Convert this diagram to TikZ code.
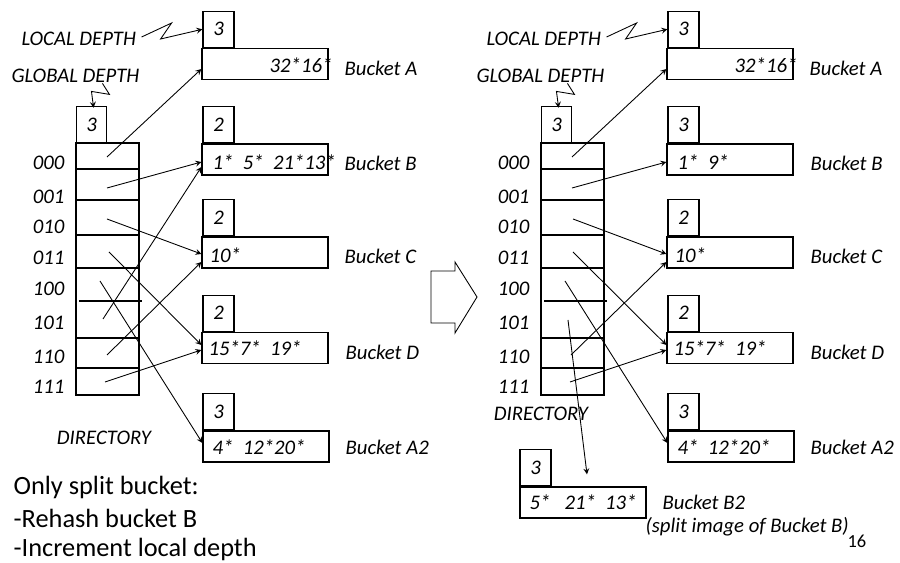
\documentclass[tikz,border=0pt]{standalone}
\usepackage{fontspec}
\setmainfont{Carlito}
\usetikzlibrary{calc,positioning}

\begin{document}
\begin{tikzpicture}[x=0.02cm,y=-0.02cm,line width=0.7pt,
  font=\fontsize{11.8}{14}\selectfont\itshape,
  bucket/.style={draw,minimum width=2.52cm,minimum height=0.62cm,inner sep=0pt},
  ldepth/.style={draw,minimum width=0.62cm,minimum height=0.72cm,inner sep=0pt,anchor=south west},
  ptr/.style={-stealth,line width=0.5pt},
  txt/.style={inner sep=0pt,anchor=west},
  note/.style={inner sep=0pt,anchor=west,font=\fontsize{15}{18}\selectfont\upshape}]
\useasboundingbox (0,0) rectangle (900,563);

% ---------- before the split ----------
\node[txt] (locL) at (21,39) {LOCAL DEPTH};
\node[txt] (globL) at (11,76) {GLOBAL DEPTH};
\node[ldepth,minimum width=0.6cm] (gdL) at (76,143) {3};
\draw (76,143) rectangle (139,395);
\foreach \y in {169,200,235,338,368} \draw (76,\y)--(139,\y);
\draw[line width=1.1pt] (76,268)--(139,268);
\draw (79,301)--(142,301);
\foreach \lab/\y in {000/163,001/197,010/227,011/258,100/289,101/323,110/357,111/387}
  \node[inner sep=0pt,anchor=east] (labL\lab) at (65,\y) {\lab};
\node[inner sep=0pt] (dirL) at (104,438) {DIRECTORY};
\foreach \n/\x/\y in {000/107/157,001/107/188,010/107/219,011/109/252,100/100/281,101/103/319,110/107/355,111/105/382}
  \coordinate (pL\n) at (\x,\y);

\node[bucket] (bA) at (265,64) {};
\node[ldepth] (dA) at ($(bA.north west)+(1,0)$) {3};
\node[txt,anchor=east] (cA) at (333,65) {32*16*};
\node[txt] (nA) at (344,68) {Bucket A};

\node[bucket] (bB) at (265,159.5) {};
\node[ldepth] (dB) at ($(bB.north west)+(1,0)$) {2};
\node[txt] (cB) at (212,162) {1*\ \ 5*\ \ 21*13*};
\node[txt] (nB) at (344,163) {Bucket B};

\node[bucket] (bC) at (265,252.5) {};
\node[ldepth] (dC) at ($(bC.north west)+(1,0)$) {2};
\node[txt] (cC) at (209,255) {10*};
\node[txt] (nC) at (344,256) {Bucket C};

\node[bucket] (bD) at (265,348) {};
\node[ldepth] (dD) at ($(bD.north west)+(1,0)$) {2};
\node[txt] (cD) at (208,348) {15*7*\ \ 19*};
\node[txt] (nD) at (345,352) {Bucket D};

\node[bucket] (bA2) at (266,446.5) {};
\node[ldepth] (dA2) at ($(bA2.north west)+(0,0)$) {3};
\node[txt] (cA2) at (212,447) {4*\ \ 12*20*};
\node[txt] (nA2) at (345,447) {Bucket A2};

\draw[ptr] ($(locL.east)+(5,-2)$) -- ++(30,-14) -- ++(-11,16) -- (dA.west);
\draw[ptr] ($(globL.south)+(27,0)$) -- ++(7,11) -- ++(-18,-3) -- ($(gdL.north)+(2,2)$);
\draw[ptr] (pL000) -- ($(bA.west)+(0,5)$);
\draw[ptr] (pL001) -- ($(bB.west)+(0,2.5)$);
\draw[ptr] (pL010) -- ($(bC.west)+(0,1.5)$);
\draw[ptr] (pL011) -- ($(bD.west)+(0,-3)$);
\draw[ptr] (pL100) -- ($(bA2.west)+(0,-3.5)$);
\draw[ptr] (pL101) -- ($(bB.west)+(0,7.5)$);
\draw[ptr] (pL110) -- ($(bC.west)+(0,9.5)$);
\draw[ptr] (pL111) -- ($(bD.west)+(0,2)$);

\node[note] (n1) at (13,487) {Only split bucket:};
\node[note] (n2) at (13,518) {-Rehash bucket B};
\node[note] (n3) at (13,549) {-Increment local depth};

% big arrow
\draw[line width=0.5pt] (431,271)--(455,271)--(455,262)--(477,297)--(455,333)--(455,323)--(431,323)--cycle;

% ---------- after the split ----------
\node[txt] (locR) at (486,39) {LOCAL DEPTH};
\node[txt] (globR) at (476,76) {GLOBAL DEPTH};
\node[ldepth,minimum width=0.6cm] (gdR) at (541,143) {3};
\draw (541,143) rectangle (604,395);
\foreach \y in {169,200,235,338,368} \draw (541,\y)--(604,\y);
\draw[line width=1.1pt] (541,268)--(604,268);
\draw (544,301)--(607,301);
\foreach \lab/\y in {000/163,001/197,010/227,011/258,100/289,101/323,110/357,111/387}
  \node[inner sep=0pt,anchor=east] (labR\lab) at (530,\y) {\lab};
\node[inner sep=0pt] (dirR) at (541,414) {DIRECTORY};
\foreach \n/\x/\y in {000/572/157,001/572/188,010/573/219,011/573/252,100/565/281,101/568/320,110/571/355,111/570/382}
  \coordinate (pR\n) at (\x,\y);

\node[bucket] (RbA) at (730,64) {};
\node[ldepth] (RdA) at ($(RbA.north west)+(1,0)$) {3};
\node[txt,anchor=east] (RcA) at (798,65) {32*16*};
\node[txt] (RnA) at (809,68) {Bucket A};

\node[bucket] (RbB) at (730,159.5) {};
\node[ldepth] (RdB) at ($(RbB.north west)+(1,0)$) {3};
\node[txt] (RcB) at (677,162) {1*\ \ 9*};
\node[txt] (RnB) at (810,163) {Bucket B};

\node[bucket] (RbC) at (730,252.5) {};
\node[ldepth] (RdC) at ($(RbC.north west)+(1,0)$) {2};
\node[txt] (RcC) at (674,255) {10*};
\node[txt] (RnC) at (810,256) {Bucket C};

\node[bucket] (RbD) at (730,348) {};
\node[ldepth] (RdD) at ($(RbD.north west)+(1,0)$) {2};
\node[txt] (RcD) at (673,348) {15*7*\ \ 19*};
\node[txt] (RnD) at (810,352) {Bucket D};

\node[bucket] (RbA2) at (731,446.5) {};
\node[ldepth] (RdA2) at ($(RbA2.north west)+(0,0)$) {3};
\node[txt] (RcA2) at (677,447) {4*\ \ 12*20*};
\node[txt] (RnA2) at (810,447) {Bucket A2};

\node[bucket] (RbB2) at (583,502.5) {};
\node[ldepth] (RdB2) at ($(RbB2.north west)+(0,0)$) {3};
\node[txt] (RcB2) at (529,502) {5*\ \ \ 21*\ \ 13*};
\node[txt] (RnB2) at (662,502) {Bucket B2};
\node[txt] (RsB2) at (645,527) {(split image of Bucket B)};
\node[txt,font=\fontsize{10.5}{12}\selectfont\upshape] (pg) at (847,541) {16};

\draw[ptr] ($(locR.east)+(5,-2)$) -- ++(30,-14) -- ++(-11,16) -- (RdA.west);
\draw[ptr] ($(globR.south)+(27,0)$) -- ++(7,11) -- ++(-18,-3) -- ($(gdR.north)+(2,2)$);
\draw[ptr] (pR000) -- ($(RbA.west)+(0,5)$);
\draw[ptr] (pR001) -- ($(RbB.west)+(0,2.5)$);
\draw[ptr] (pR010) -- ($(RbC.west)+(0,1.5)$);
\draw[ptr] (pR011) -- ($(RbD.west)+(0,-3)$);
\draw[ptr] (pR100) -- ($(RbA2.west)+(0,-3.5)$);
\draw[ptr] (pR101) -- ($(RbB2.north)+(4,-12)$);
\draw[ptr] (pR110) -- ($(RbC.west)+(0,9.5)$);
\draw[ptr] (pR111) -- ($(RbD.west)+(0,2)$);
\end{tikzpicture}
\end{document}
